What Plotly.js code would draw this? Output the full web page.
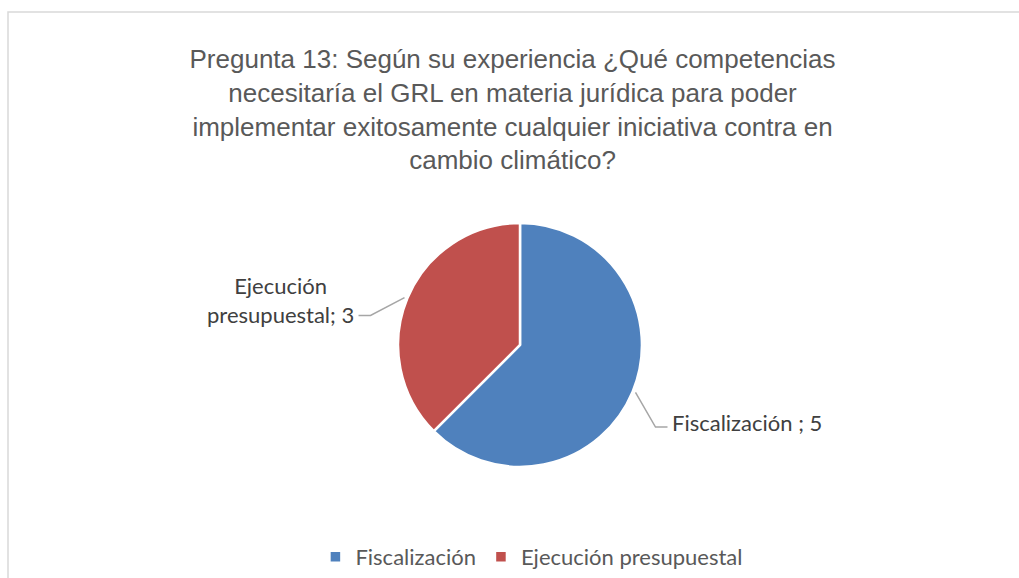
<!DOCTYPE html>
<html>
<head>
<meta charset="utf-8">
<script src="https://cdn.plot.ly/plotly-3.0.1.min.js"></script>
<style>
  body { margin: 0; background: #fff; }
  #plot { width: 1019px; height: 578px; }
</style>
</head>
<body>
<div id="plot"></div>
<script>
// data
let labels = ["Fiscalización", "Ejecución presupuestal"];
let values = [5, 3];
let sliceText = ["Fiscalización ; 5", "Ejecución<br>presupuestal; 3"];
let colors = ["#4F81BD", "#C0504D"];

let W = 1019;
let H = 578;

// pie placement in pixels
let cx = 520;
let cy = 348;
let r = 123;

function px(x) { return x / W; }
function py(y) { return 1 - y / H; }

// leader lines + labels from slice angles (clockwise from 12 o'clock)
let total = values.reduce((a, b) => a + b, 0);
let shapes = [];
let annotations = [];
let start = 0;
values.forEach((v, i) => {
  let mid = (start + v / 2) / total * 2 * Math.PI;
  start += v;
  let dx = Math.sin(mid);
  let dy = -Math.cos(mid);
  let side = dx >= 0 ? 1 : -1;
  let ex = cx + (r + 2) * dx;
  let ey = cy + (r + 2) * dy;
  let kx = ex + (side > 0 ? 20 : 34) * side;
  let ky = ey + (side > 0 ? 35 : 18);
  let hx = kx + 12 * side;
  shapes.push({
    type: "path",
    xref: "paper", yref: "paper",
    path: `M ${px(ex)} ${py(ey)} L ${px(kx)} ${py(ky)} L ${px(hx)} ${py(ky)}`,
    line: { color: "#A6A6A6", width: 1.5 }
  });
  annotations.push({
    xref: "paper", yref: "paper",
    x: px(hx + 3 * side),
    y: py(side > 0 ? ky - 5 : ky + 15),
    text: sliceText[i],
    showarrow: false,
    xanchor: side > 0 ? "left" : "right",
    yanchor: side > 0 ? "middle" : "bottom",
    align: "center",
    font: { family: "Lato, Open Sans, sans-serif", size: 22, color: "#404040" }
  });
});

// chart frame
shapes.push({
  type: "path",
  xref: "paper", yref: "paper",
  path: `M ${px(8)} ${py(600)} L ${px(8)} ${py(12)} L ${px(1030)} ${py(12)}`,
  line: { color: "#D9D9D9", width: 1.5 }
});

let data = [{
  type: "pie",
  labels: labels,
  values: values,
  sort: false,
  direction: "clockwise",
  rotation: 0,
  textinfo: "none",
  hoverinfo: "label+value",
  marker: { colors: colors, line: { color: "#FFFFFF", width: 2.5 } },
  domain: { x: [px(cx - r), px(cx + r)], y: [py(cy + r), py(cy - r)] }
}];

let layout = {
  width: W,
  height: H,
  margin: { l: 0, r: 0, t: 0, b: 0 },
  paper_bgcolor: "#FFFFFF",
  title: {
    text: "Pregunta 13: Según su experiencia ¿Qué competencias<br>necesitaría el GRL en materia jurídica para poder<br>implementar exitosamente cualquier iniciativa contra en<br>cambio climático?",
    font: { family: "Liberation Sans, Arial, sans-serif", size: 26, color: "#595959" },
    x: 0.503,
    xanchor: "center",
    y: py(68),
    yanchor: "top"
  },
  showlegend: true,
  legend: {
    orientation: "h",
    x: 0.522,
    xanchor: "center",
    y: py(562),
    yanchor: "middle",
    font: { family: "Lato, Open Sans, sans-serif", size: 22, color: "#595959" },
    itemwidth: 30,
    tracegroupgap: 0
  },
  shapes: shapes,
  annotations: annotations
};

Plotly.newPlot("plot", data, layout, { displayModeBar: false });
</script>
</body>
</html>
